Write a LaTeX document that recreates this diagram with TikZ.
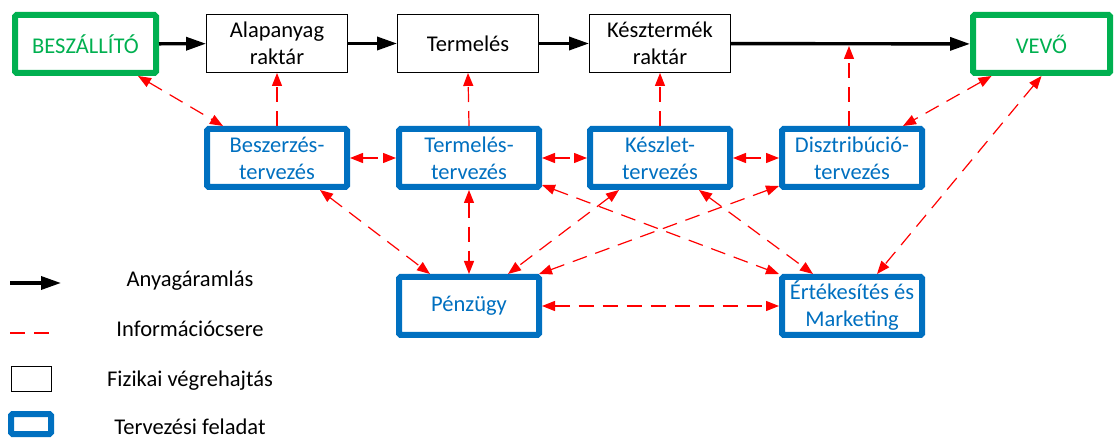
\documentclass[tikz,border=0pt]{standalone}
\usepackage{fontspec}
\setmainfont{Carlito}
\usetikzlibrary{arrows.meta}

\definecolor{partnergreen}{HTML}{00B050}
\definecolor{planblue}{HTML}{0070C0}
\definecolor{inforeds}{HTML}{FF0000}

\tikzset{
  base/.style={font=\fontsize{22.5}{27}\selectfont, align=center, inner sep=0pt},
  partner/.style={base, draw=partnergreen, line width=6pt, text=partnergreen,
    fill=white, rounded corners=1.5pt, minimum width=141pt, minimum height=58pt},
  physical/.style={base, draw=black, line width=0.9pt, fill=white,
    minimum width=141pt, minimum height=58pt},
  planning/.style={base, draw=planblue, line width=6pt, text=planblue,
    fill=white, rounded corners=1.5pt, minimum width=140pt, minimum height=58pt},
  flow/.style={line width=3.4pt, -{Triangle[length=20pt,width=13pt]}},
  info/.style={draw=inforeds, line width=1.2pt, dash pattern=on 15pt off 9pt},
  infoboth/.style={info, {Triangle[length=13pt,width=10pt]}-{Triangle[length=13pt,width=10pt]}},
  infoone/.style={info, -{Triangle[length=13pt,width=10pt]}},
  legendtext/.style={font=\fontsize{22.5}{27}\selectfont, anchor=base, inner sep=0pt},
}

\begin{document}
\begin{tikzpicture}[x=1pt, y=-1pt]
\useasboundingbox (0,0) rectangle (1114,438);

% partners and physical stages
\node[partner]  (besz)  at (85.5,44)  {BESZÁLLÍTÓ};
\node[physical] (alap)  at (277,43.5) {Alapanyag\\raktár};
\node[physical] (term)  at (468,43.5) {Termelés};
\node[physical] (kesz)  at (660,43.5) {Késztermék\\raktár};
\node[partner, minimum width=137pt] (vevo) at (1041.5,44) {VEVŐ};

% planning tasks
\node[planning] (bt) at (277,158) {Beszerzés-\\tervezés};
\node[planning] (tt) at (469,158) {Termelés-\\tervezés};
\node[planning] (kt) at (660,158) {Készlet-\\tervezés};
\node[planning] (dt) at (852,158) {Disztribúció-\\tervezés};
\node[planning] (pen) at (469,306) {Pénzügy};
\node[planning] (ert) at (852,306) {Értékesítés és\\Marketing};

% material flow
\draw[flow] (besz) -- (alap);
\draw[flow] (alap) -- (term);
\draw[flow] (term) -- (kesz);
\draw[flow] (kesz) -- (vevo);
\coordinate (jn) at (849,46);

% information exchange
\draw[infoboth] ([xshift=52.5pt]besz.south) -- ([xshift=-54pt]bt.north);
\draw[infoone] (bt.north) -- (alap.south);
\draw[infoone] (tt.north) -- (term.south);
\draw[infoone] (kt.north) -- (kesz.south);
\draw[infoone] ([xshift=-3pt]dt.north) -- (jn);
\draw[infoboth] ([xshift=-50pt]vevo.south) -- ([xshift=51pt]dt.north);
\draw[infoboth] (vevo.south) -- ([xshift=25pt]ert.north);

\draw[infoboth] (bt.east) -- (tt.west);
\draw[infoboth] (tt.east) -- (kt.west);
\draw[infoboth] (kt.east) -- (dt.west);

\draw[infoboth] ([xshift=43pt]bt.south) -- ([xshift=-39pt]pen.north);
\draw[infoboth] (tt.south) -- (pen.north);
\draw[infoboth] ([xshift=-41pt]kt.south) -- ([xshift=39pt]pen.north);
\draw[infoboth] ([yshift=4pt]dt.south west) -- ([xshift=-3pt]pen.north east);
\draw[infoboth] ([yshift=5pt]tt.south east) -- (ert.north west);
\draw[infoboth] ([xshift=39pt]kt.south) -- ([xshift=-39pt]ert.north);
\draw[infoboth] (pen.east) -- (ert.west);

% legend
\coordinate (l1a) at (10,283);
\coordinate (l1b) at (61,283);
\draw[flow] (l1a) -- (l1b);
\node[legendtext] (t1) at (190,287) {Anyagáramlás};

\coordinate (l2a) at (10,333);
\coordinate (l2b) at (53,333);
\draw[info] (l2a) -- (l2b);
\node[legendtext] (t2) at (190,337) {Információcsere};

\draw[black, line width=0.9pt] (11,366) rectangle (51,391);
\node[legendtext] (t3) at (190,386) {Fizikai végrehajtás};

\draw[planblue, line width=6pt, rounded corners=1.5pt] (11,414) rectangle (51,434);
\node[legendtext] (t4) at (190,434) {Tervezési feladat};
\end{tikzpicture}
\end{document}
